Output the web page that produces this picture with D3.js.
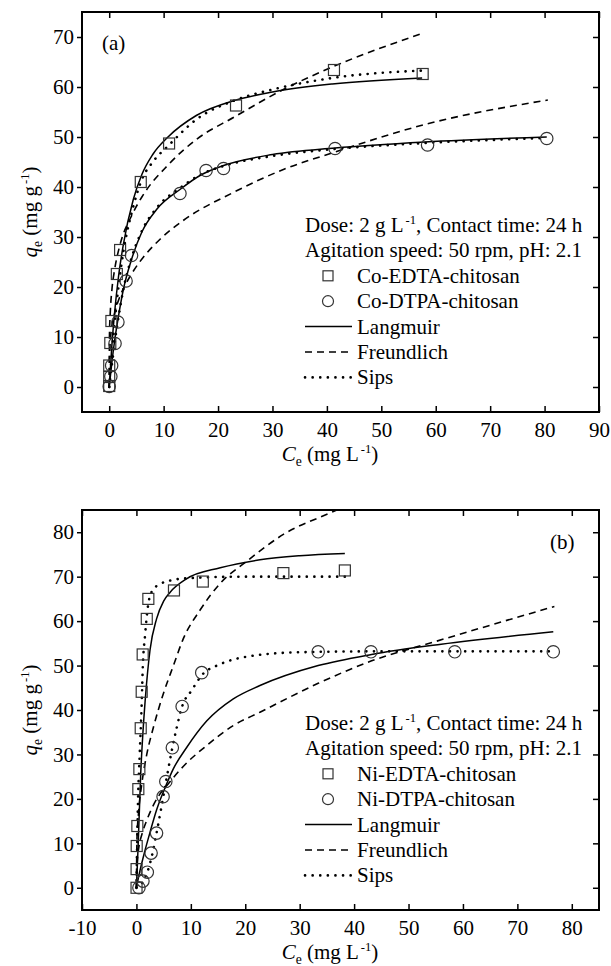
<!DOCTYPE html>
<html>
<head>
<meta charset="utf-8">
<script src="https://cdn.jsdelivr.net/npm/d3@7"></script>
<style>
  body { margin: 0; background: #fff; }
  text { font-family: "Liberation Serif", "Times New Roman", serif; fill: #000; }
</style>
</head>
<body>
<svg id="chart" width="611" height="966"></svg>
<script>
// ---- panel (a): cobalt ----
const coEdtaPts = [[0,0.2],[0,2],[0,4.3],[0.2,8.8],[0.4,13.2],[1.4,22.6],[2.0,27.4],[5.8,41],[11,48.7],[23.3,56.3],[41.3,63.4],[57.6,62.6]];
const coDtpaPts = [[0,0.1],[0.3,2.1],[0.45,4.3],[1.07,8.7],[1.6,13],[3.1,21.2],[4.1,26.3],[13,38.7],[17.8,43.3],[21,43.7],[41.5,47.7],[58.5,48.4],[80.4,49.7]];

const coEdtaLangmuir = [[0,0],[0.5,8.5],[1,15],[1.7,22],[2.6,28.5],[4.4,37.4],[6,42.5],[8,46.5],[10.9,50.1],[16,54.3],[23,57.3],[30,59],[41,60.6],[57.5,61.8]];
const coEdtaFreundlich = [[0,0],[0.05,10.5],[0.2,15],[0.5,19.5],[1,23.5],[2,28.5],[4,34],[6,38],[10.9,44.5],[16,49.5],[23,54],[32,59.5],[41,64],[57.5,70.7]];
const coEdtaSips = [[0,0],[0.5,7],[1,13],[1.7,20],[2.6,27],[4.4,36],[6,41.5],[8,45],[10.9,48.3],[16,53.5],[23,57.3],[30,59.5],[41,61.8],[57.7,63.3]];

const coDtpaLangmuir = [[0,0],[0.5,5],[1,9.3],[1.6,13.5],[2.6,19.5],[4.1,25.5],[6,31],[8.7,35.5],[13,39.5],[17,42.5],[21,44.3],[30,46.5],[41.5,47.8],[58,49],[80.4,50]];
const coDtpaFreundlich = [[0,0],[0.05,5.5],[0.3,10.5],[1,14.7],[2,18.2],[3,20.5],[4.5,23.3],[6.3,26],[9.3,29.5],[13.6,33.3],[22.8,38.9],[32,43.5],[41.5,47],[58,52.5],[80.6,57.4]];
const coDtpaSips = [[0,0],[0.5,4.5],[1,8.8],[1.6,13.2],[2.6,19.5],[4.1,25.8],[6,31.2],[8.7,35.8],[13,39.8],[17,42.6],[21,44.2],[30,46.2],[41.5,47.6],[58,48.8],[80.4,49.8]];

// ---- panel (b): nickel ----
const niEdtaPts = [[0.02,0],[0.03,4.2],[0.05,9.4],[0.17,13.9],[0.35,22.2],[0.54,26.7],[0.79,35.9],[0.97,44.1],[1.15,52.5],[1.9,60.5],[2.19,65],[6.9,66.9],[12.2,68.9],[27,70.8],[38.3,71.4]];
const niDtpaPts = [[0.46,0],[1.2,1.5],[2,3.5],[2.7,7.8],[3.7,12.3],[4.9,20.5],[5.4,23.9],[6.6,31.5],[8.4,40.8],[12,48.4],[33.4,53.1],[43.1,53.1],[58.5,53.1],[76.6,53.1]];

const niEdtaLangmuir = [[0,0],[0.3,9],[0.8,26],[1.2,35],[1.6,42],[2.5,53.5],[3.7,60.5],[5,64.5],[6.2,66.5],[9.2,69.5],[15.4,72],[22.7,73.8],[30,74.7],[38.3,75.2]];
const niEdtaFreundlich = [[0,0],[0.1,11],[0.4,17],[1,23.5],[1.9,30],[3.1,36],[4.9,43.5],[6.8,50],[8.6,56],[11.7,62.5],[15.4,68.5],[20.3,73.5],[27,79.5],[36.8,85],[38.5,86]];
const niEdtaSips = [[0,0],[0.3,20],[0.6,30],[0.97,41.5],[1.15,49],[1.6,57],[2.2,64],[3,67],[4.3,68.3],[6.5,69.2],[10,69.7],[20,70],[38.5,70]];

const niDtpaLangmuir = [[0,0],[0.5,3],[1.6,8.5],[2.5,12.5],[3.7,17.5],[5.6,23.5],[6.8,26.8],[9.2,31.5],[12.9,37.5],[17.8,42.5],[22.7,45.5],[33.4,50],[43.2,52.5],[56,54.8],[76.6,57.6]];
const niDtpaFreundlich = [[0,0],[0.1,5],[0.5,9.5],[1,12],[2,15.5],[3,18.3],[4,20.5],[5.6,23],[8.6,27.3],[12.9,32],[17.8,36.5],[22.7,39.5],[33.4,46],[43.1,51],[55.2,55.5],[76.8,63.3]];
const niDtpaSips = [[0,0],[1,1],[2,3.5],[3,8],[3.7,12.3],[4.6,18.2],[5.6,25],[6.6,31.5],[7.4,36],[8.4,40.8],[10.2,44.5],[12,47.8],[15.4,50.3],[20.3,52],[30,53],[45,53.2],[76.6,53.2]];

// ticks
const xTicksA = [0,10,20,30,40,50,60,70,80,90];
const yTicksA = [0,10,20,30,40,50,60,70];
const xTicksB = [-10,0,10,20,30,40,50,60,70,80];
const yTicksB = [0,10,20,30,40,50,60,70,80];

const svg = d3.select('#chart');
const left = 82, right = 599;
const FS = 21;
const FONT = '"Liberation Serif", "Times New Roman", serif';

const lineStyles = {
  langmuir:   {dash: null,      width: 1.5, cap: 'butt'},
  freundlich: {dash: '7,5',     width: 1.6, cap: 'butt'},
  sips:       {dash: '0.1,7.5', width: 2.6, cap: 'round'}
};

// text with sub/superscript pieces
function richText(sel, parts, size) {
  let shift = 0;
  parts.forEach(p => {
    const t = sel.append('tspan').text(p.t);
    let target = 0;
    if (p.italic) t.attr('font-style', 'italic');
    if (p.sup) { t.attr('font-size', size * 0.6).attr('dx', 2); target = -size * 0.4; }
    if (p.sub) { t.attr('font-size', size * 0.65); target = size * 0.25; }
    t.attr('dy', target - shift);
    shift = target;
  });
}

function drawPanel(cfg) {
  const x = d3.scaleLinear().domain(cfg.xDomain).range([left, right]);
  const y = d3.scaleLinear().domain(cfg.yDomain).range([cfg.bottom, cfg.top]);
  const g = svg.append('g');

  g.append('clipPath').attr('id', cfg.id + '-clip')
    .append('rect').attr('x', left).attr('y', cfg.top)
    .attr('width', right - left).attr('height', cfg.bottom - cfg.top);

  // axes
  const fmt = d => String(d);
  const bottomAx = g.append('g').attr('transform', `translate(0,${cfg.bottom})`)
    .call(d3.axisBottom(x).tickValues(cfg.xTicks).tickFormat(fmt).tickSizeInner(-6).tickSizeOuter(0).tickPadding(10));
  const topAx = g.append('g').attr('transform', `translate(0,${cfg.top})`)
    .call(d3.axisTop(x).tickValues(cfg.xTicks).tickSizeInner(-6).tickSizeOuter(0).tickFormat(''));
  const leftAx = g.append('g').attr('transform', `translate(${left},0)`)
    .call(d3.axisLeft(y).tickValues(cfg.yTicks).tickFormat(fmt).tickSizeInner(5).tickSizeOuter(0).tickPadding(3));
  const rightAx = g.append('g').attr('transform', `translate(${right},0)`)
    .call(d3.axisRight(y).tickValues(cfg.yTicks).tickSizeInner(-6).tickSizeOuter(0).tickFormat(''));
  [bottomAx, topAx, leftAx, rightAx].forEach(a => {
    a.attr('font-family', null).attr('font-size', null);
    a.select('.domain').remove();
    a.selectAll('line').attr('stroke', '#000').attr('stroke-width', 1.5);
    a.selectAll('text').style('font-size', FS + 'px').style('font-family', FONT).attr('fill', '#000');
  });

  // fitted curves
  const line = d3.line().x(d => x(d[0])).y(d => y(d[1])).curve(d3.curveMonotoneX);
  const curves = g.append('g').attr('clip-path', `url(#${cfg.id}-clip)`);
  cfg.curves.forEach(c => {
    const st = lineStyles[c.type];
    curves.append('path').datum(c.pts)
      .attr('d', line)
      .attr('fill', 'none')
      .attr('stroke', '#000')
      .attr('stroke-width', st.width)
      .attr('stroke-linecap', st.cap)
      .attr('stroke-dasharray', st.dash);
  });

  // data markers
  curves.selectAll('rect.sq').data(cfg.squares).enter().append('rect')
    .attr('class', 'sq')
    .attr('x', d => x(d[0]) - 5.5).attr('y', d => y(d[1]) - 5.5)
    .attr('width', 11).attr('height', 11)
    .attr('fill', 'none').attr('stroke', '#333').attr('stroke-width', 1.2);
  curves.selectAll('circle.ci').data(cfg.circles).enter().append('circle')
    .attr('class', 'ci')
    .attr('cx', d => x(d[0])).attr('cy', d => y(d[1])).attr('r', 6.2)
    .attr('fill', 'none').attr('stroke', '#333').attr('stroke-width', 1.2);

  // frame
  g.append('rect').attr('x', left).attr('y', cfg.top)
    .attr('width', right - left).attr('height', cfg.bottom - cfg.top)
    .attr('fill', 'none').attr('stroke', '#000').attr('stroke-width', 2);

  // panel letter
  g.append('text').attr('x', cfg.letterX).attr('y', cfg.letterY)
    .style('font-size', FS + 'px').text(cfg.letter);

  // axis titles
  const xt = g.append('text').attr('x', 330).attr('y', cfg.bottom + 49)
    .style('font-size', FS + 'px').attr('text-anchor', 'middle');
  richText(xt, [{t: 'C', italic: true}, {t: 'e', sub: true}, {t: ' (mg L'}, {t: '-1', sup: true}, {t: ')'}], FS);

  const yt = g.append('text')
    .attr('transform', `translate(37,${(cfg.top + cfg.bottom) / 2}) rotate(-90)`)
    .style('font-size', FS + 'px').attr('text-anchor', 'middle');
  richText(yt, [{t: 'q', italic: true}, {t: 'e', sub: true}, {t: ' (mg g'}, {t: '-1', sup: true}, {t: ')'}], FS);

  // legend
  const lx = 305, row = 25.4, y0 = cfg.bottom - 187;
  const lg = g.append('g');
  const t1 = lg.append('text').attr('x', lx).attr('y', y0 + 7).style('font-size', FS + 'px');
  richText(t1, [{t: 'Dose: 2 g L'}, {t: '-1', sup: true}, {t: ', Contact time: 24 h'}], FS);
  lg.append('text').attr('x', lx).attr('y', y0 + row + 7).style('font-size', FS + 'px')
    .text('Agitation speed: 50 rpm, pH: 2.1');

  const items = [
    {label: cfg.names[0], sym: 'square'},
    {label: cfg.names[1], sym: 'circle'},
    {label: 'Langmuir', sym: 'langmuir'},
    {label: 'Freundlich', sym: 'freundlich'},
    {label: 'Sips', sym: 'sips'}
  ];
  items.forEach((it, i) => {
    const cy = y0 + row * (i + 2);
    if (it.sym === 'square') {
      lg.append('rect').attr('x', 323).attr('y', cy - 5).attr('width', 10).attr('height', 10)
        .attr('fill', 'none').attr('stroke', '#333').attr('stroke-width', 1.2);
    } else if (it.sym === 'circle') {
      lg.append('circle').attr('cx', 328).attr('cy', cy).attr('r', 5.5)
        .attr('fill', 'none').attr('stroke', '#333').attr('stroke-width', 1.2);
    } else {
      const st = lineStyles[it.sym];
      lg.append('line').attr('x1', lx).attr('x2', 352).attr('y1', cy).attr('y2', cy)
        .attr('stroke', '#000').attr('stroke-width', st.width)
        .attr('stroke-linecap', st.cap).attr('stroke-dasharray', st.dash);
    }
    lg.append('text').attr('x', 357).attr('y', cy + 7).style('font-size', FS + 'px').text(it.label);
  });
}

drawPanel({
  id: 'pa', top: 12, bottom: 412, xDomain: [-5, 90], yDomain: [-5, 75],
  xTicks: xTicksA, yTicks: yTicksA,
  letter: '(a)', letterX: 102, letterY: 50,
  names: ['Co-EDTA-chitosan', 'Co-DTPA-chitosan'],
  squares: coEdtaPts, circles: coDtpaPts,
  curves: [
    {pts: coEdtaLangmuir, type: 'langmuir'}, {pts: coEdtaFreundlich, type: 'freundlich'}, {pts: coEdtaSips, type: 'sips'},
    {pts: coDtpaLangmuir, type: 'langmuir'}, {pts: coDtpaFreundlich, type: 'freundlich'}, {pts: coDtpaSips, type: 'sips'}
  ]
});

drawPanel({
  id: 'pb', top: 510, bottom: 910, xDomain: [-10, 85], yDomain: [-5, 85],
  xTicks: xTicksB, yTicks: yTicksB,
  letter: '(b)', letterX: 550, letterY: 549,
  names: ['Ni-EDTA-chitosan', 'Ni-DTPA-chitosan'],
  squares: niEdtaPts, circles: niDtpaPts,
  curves: [
    {pts: niEdtaLangmuir, type: 'langmuir'}, {pts: niEdtaFreundlich, type: 'freundlich'}, {pts: niEdtaSips, type: 'sips'},
    {pts: niDtpaLangmuir, type: 'langmuir'}, {pts: niDtpaFreundlich, type: 'freundlich'}, {pts: niDtpaSips, type: 'sips'}
  ]
});
</script>
</body>
</html>
